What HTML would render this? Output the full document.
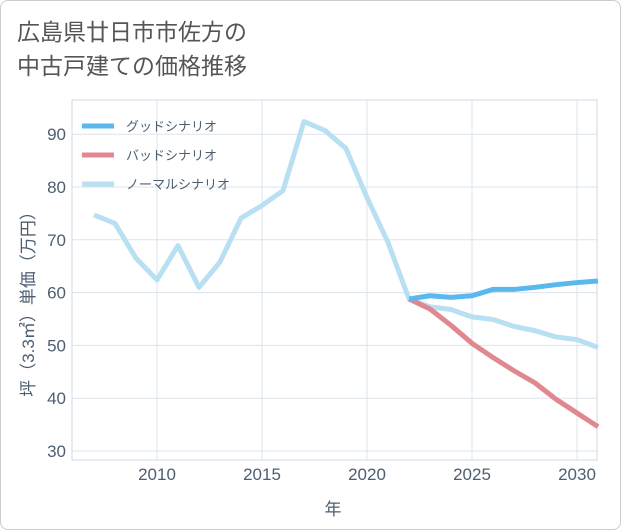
<!DOCTYPE html>
<html><head><meta charset="utf-8"><style>
body{margin:0;background:#fff;font-family:"Liberation Sans","Noto Sans CJK JP",sans-serif;}
#wrap{position:relative;width:619px;height:528px;border:1px solid #ccc;border-radius:8px;overflow:hidden;background:#fff}
.title{position:absolute;left:16px;top:14px;font-size:23px;line-height:34px;color:#555}
</style></head><body>
<div id="wrap">
<div class="title">広島県廿日市市佐方の<br>中古戸建ての価格推移</div>
<svg id="chart" width="621" height="530" style="position:absolute;left:-1px;top:-1px"></svg>
</div>
<script>
const years=[2007,2008,2009,2010,2011,2012,2013,2014,2015,2016,2017,2018,2019,2020,2021,2022,2023,2024,2025,2026,2027,2028,2029,2030,2031];
const normal=[74.7,73.1,66.5,62.4,68.9,61,65.8,74.1,76.5,79.3,92.4,90.7,87.3,78,69.5,58.8,57.3,56.8,55.4,54.9,53.6,52.8,51.6,51.1,49.6];
const futureYears=[2022,2023,2024,2025,2026,2027,2028,2029,2030,2031];
const good=[58.8,59.4,59.1,59.4,60.6,60.6,61,61.5,61.9,62.2];
const bad=[58.8,56.9,53.8,50.4,47.7,45.2,42.9,39.8,37.2,34.6];
const xTicks=[2010,2015,2020,2025,2030];
const yTicks=[30,40,50,60,70,80,90];
const NS='http://www.w3.org/2000/svg';
const svg=document.getElementById('chart');
const L=72,R=597,T=100,B=460;
const TXT='#4d5e70';
const x=v=>157+(v-2010)*21;
const y=v=>451-(v-30)*5.28;
function mk(t,a){const e=document.createElementNS(NS,t);for(const k in a)e.setAttribute(k,a[k]);svg.appendChild(e);return e;}
const bg=mk('rect',{x:L,y:T,width:R-L,height:B-T,fill:'#fff',stroke:'#d0dae4'});


yTicks.forEach(v=>{
 const g=mk('line',{x1:L,x2:R,y1:y(v),y2:y(v),stroke:'#dbe4ec'});
 
 
 const t=mk('text',{x:L-6,y:y(v)+6,'text-anchor':'end','font-size':17,fill:TXT});
 t.textContent=v;
 
 
});
xTicks.forEach(v=>{
 const g=mk('line',{x1:x(v),x2:x(v),y1:T,y2:B,stroke:'#dbe4ec'});
 
 
 const t=mk('text',{x:x(v),y:B+20,'text-anchor':'middle','font-size':17,fill:TXT});
 t.textContent=v;
 
 
});
function line(xs,ys,c,name){
 const p=mk('polyline',{points:xs.map((v,i)=>x(v)+','+y(ys[i])).join(' '),fill:'none',stroke:c,'stroke-width':5,'stroke-linejoin':'round'});
 
 
}
line(years,normal,'#b9e0f2','normal-scenario-line');
line(futureYears,bad,'#e08890','bad-scenario-line');
line(futureYears,good,'#5ab8ef','good-scenario-line');
const legend=[['グッドシナリオ','#5ab8ef'],['バッドシナリオ','#e08890'],['ノーマルシナリオ','#b9e0f2']];
legend.forEach((d,i)=>{
 const ly=126+i*29;
 const l=mk('line',{x1:82,x2:114,y1:ly,y2:ly,stroke:d[1],'stroke-width':5});
 
 
 const t=mk('text',{x:126,y:ly+5,'font-size':13,fill:TXT});
 t.textContent=d[0];
 
 
});
const xt=mk('text',{x:333,y:515,'text-anchor':'middle','font-size':17,fill:TXT});
xt.textContent='年';


const yt=mk('text',{x:0,y:0,'text-anchor':'middle','font-size':17,fill:TXT,transform:'translate(34,300) rotate(-90)'});
yt.textContent='坪（3.3㎡）単価（万円）';


</script>
</body></html>
